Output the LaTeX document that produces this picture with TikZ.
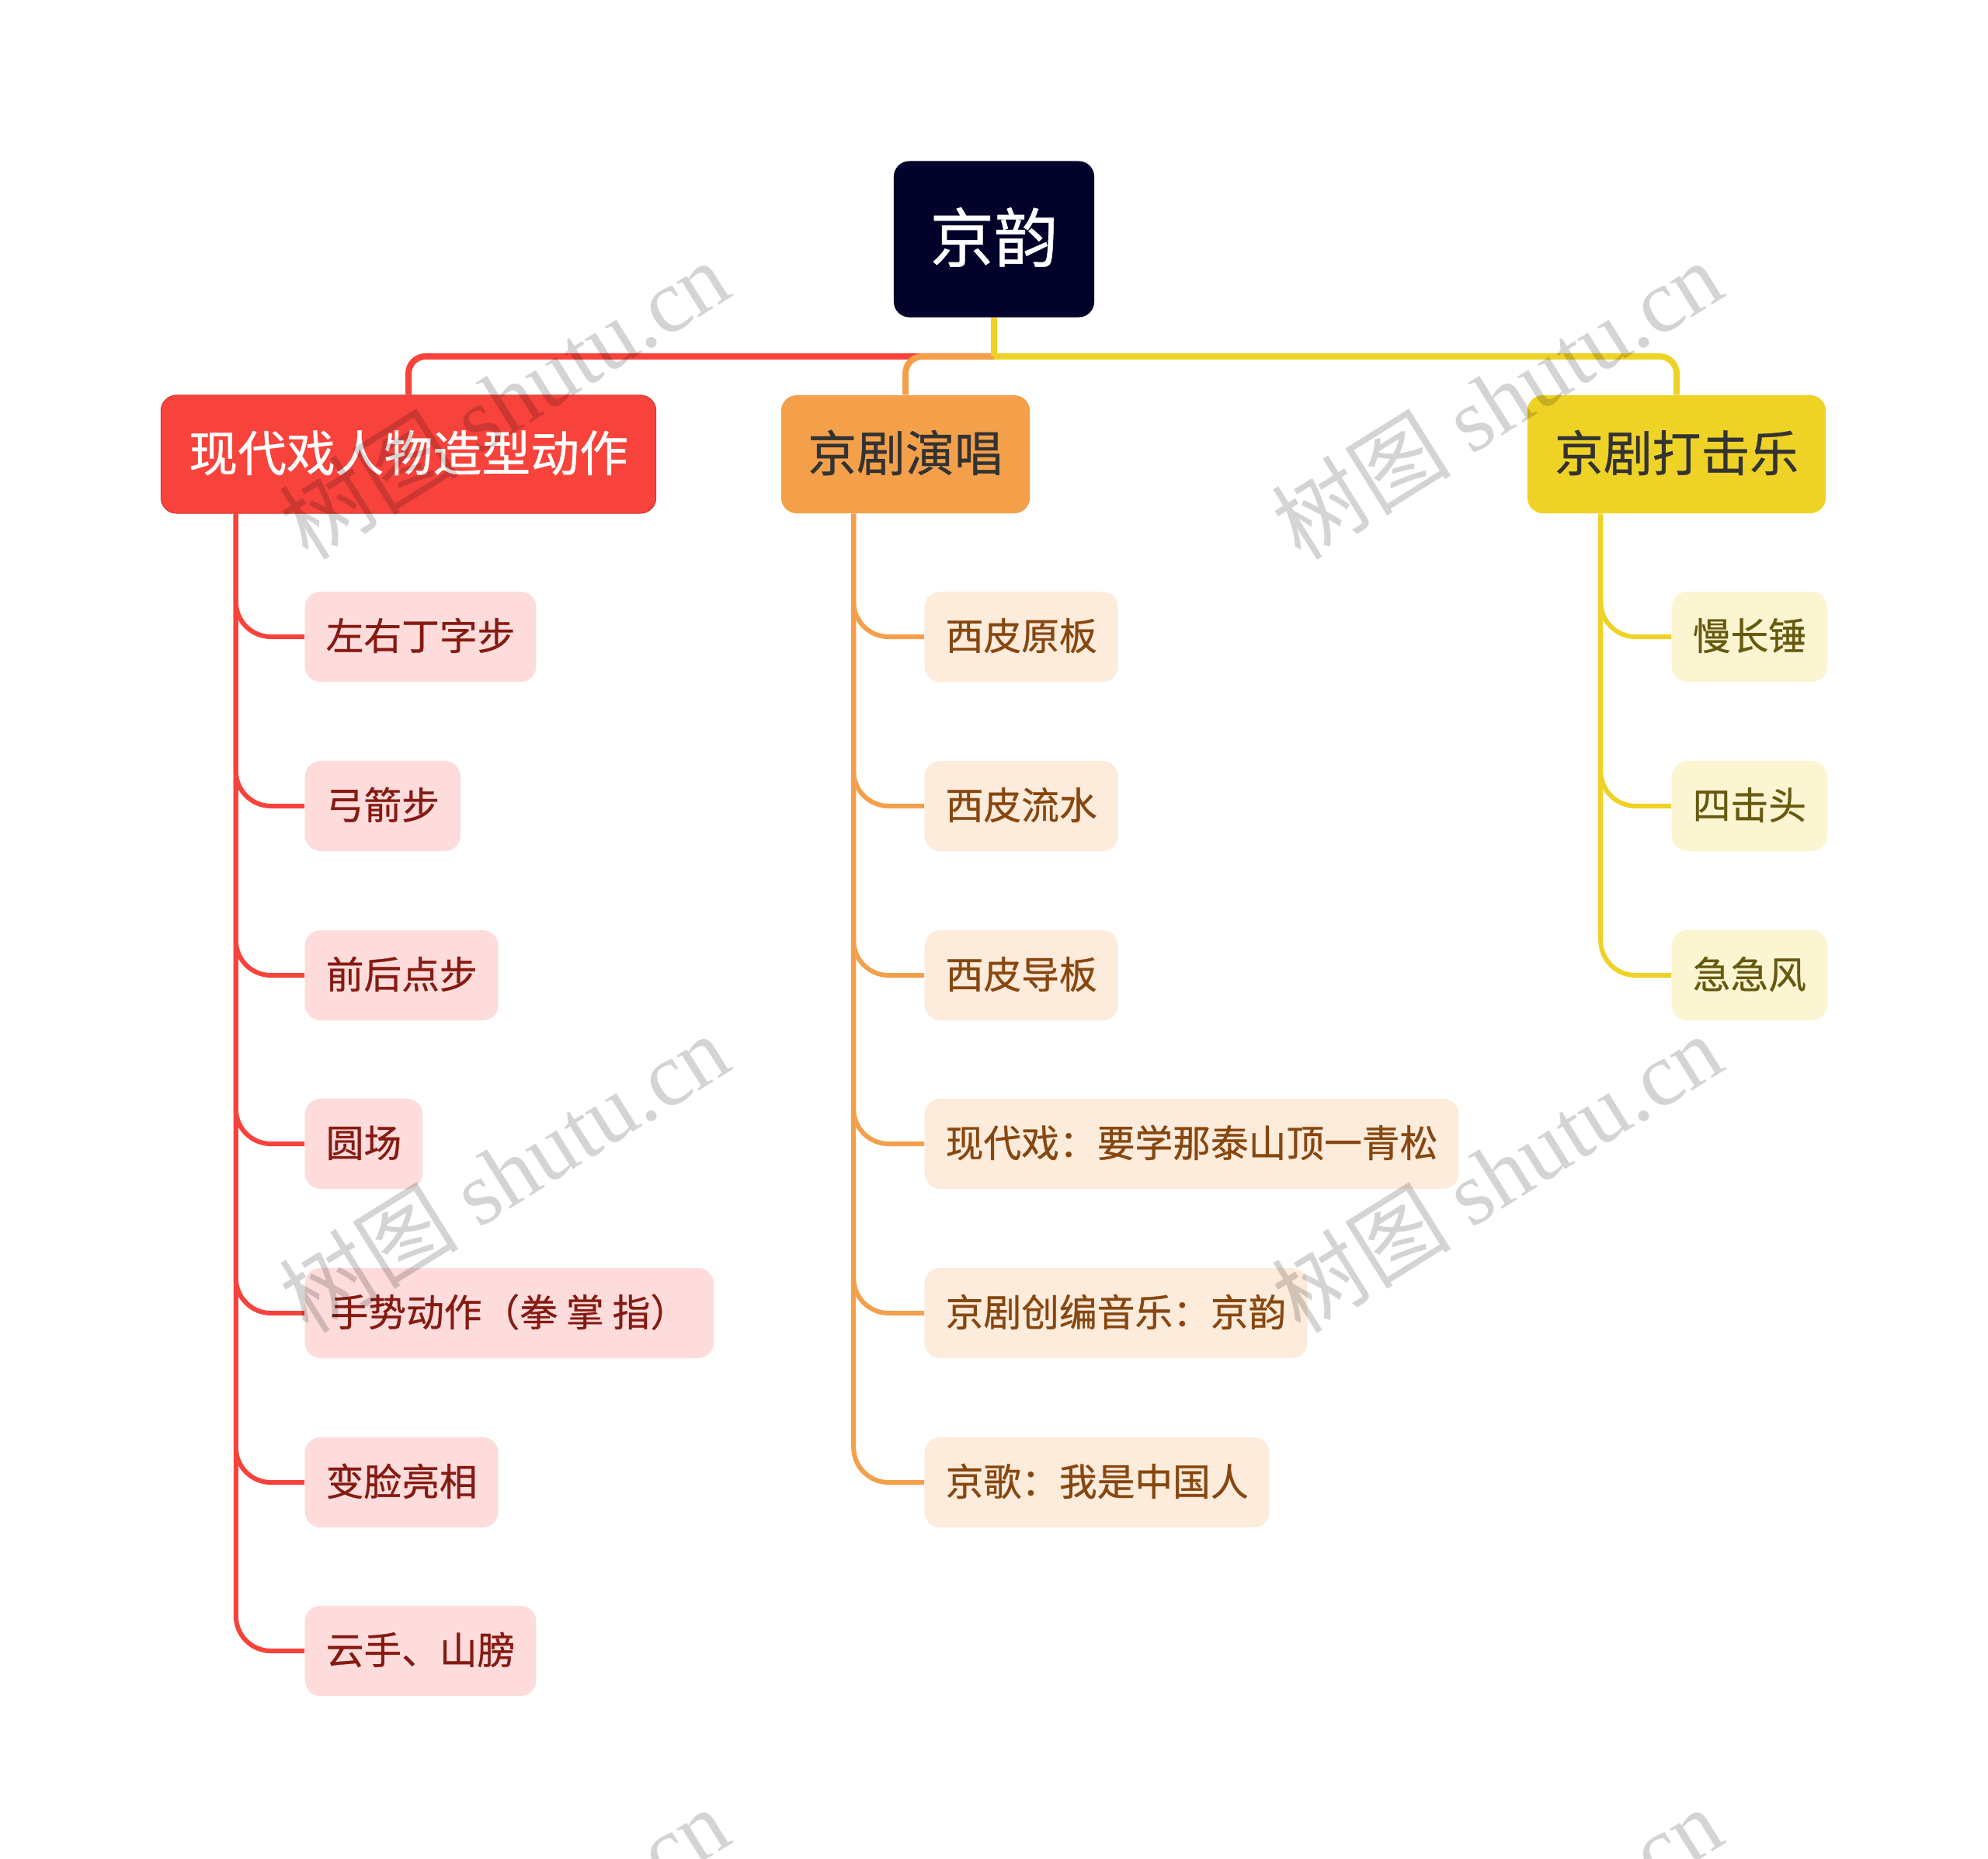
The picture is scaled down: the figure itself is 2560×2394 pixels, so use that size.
\documentclass[tikz,border=0pt]{standalone}
\usepackage{fontspec}
\newfontfamily\cjk[FakeBold=0.6]{Noto Sans CJK SC}
\newfontfamily\wmcjk{Noto Sans CJK SC}
\newfontfamily\wmlat{Liberation Serif}
\usetikzlibrary{calc}
\definecolor{rootc}{HTML}{03022A}
\definecolor{redc}{HTML}{F7433B}
\definecolor{orac}{HTML}{F4A04B}
\definecolor{yelc}{HTML}{EFD226}
\definecolor{redf}{HTML}{FDDCDB}
\definecolor{redt}{HTML}{861A12}
\definecolor{oraf}{HTML}{FDEBDB}
\definecolor{orat}{HTML}{874710}
\definecolor{yelf}{HTML}{FBF5D2}
\definecolor{yelt}{HTML}{675A10}
\definecolor{darkt}{HTML}{333333}
\begin{document}
\begin{tikzpicture}[x=0.01cm,y=-0.01cm,
  rootbox/.style={rectangle, rounded corners=0.2cm, fill=rootc, text=white,
    minimum width=2.58cm, minimum height=2.01cm, inner sep=0pt,
    text height=20pt, text depth=3.5pt,
    font=\cjk\fontsize{23.47pt}{28pt}\selectfont},
  lonebox/.style={rectangle, rounded corners=0.2cm, minimum height=1.52cm, inner sep=0pt,
    text height=15.2pt, text depth=2.7pt,
    font=\cjk\fontsize{17.87pt}{21pt}\selectfont},
  leaf/.style={rectangle, rounded corners=0.2cm, anchor=west, minimum height=1.16cm,
    inner xsep=0.27cm, inner ysep=0pt, text height=11.8pt, text depth=2.1pt,
    font=\cjk\fontsize{13.86pt}{16pt}\selectfont},
  redleaf/.style={leaf, fill=redf, text=redt},
  oraleaf/.style={leaf, fill=oraf, text=orat},
  yelleaf/.style={leaf, fill=yelf, text=yelt},
  link/.style={line width=0.08cm, rounded corners=0.22cm},
  sublink/.style={line width=0.06cm, rounded corners=0.45cm},
  wmark/.style={rotate=32, text=black, text opacity=0.17, inner sep=0pt,
    font=\fontsize{33pt}{36pt}\selectfont}
]
\useasboundingbox (0,0) rectangle (2560,2394);
\fill[white] (0,0) rectangle (2560,2394);
\clip (0,0) rectangle (2560,2394);

% root and main topics
\node[rootbox] (root) at (1280,308) {京韵};
\node[lonebox, fill=redc, draw=redc!85!black, line width=0.3pt, text=white, minimum width=6.37cm] (red) at (526,585) {现代戏人物造型动作};
\node[lonebox, fill=orac, text=darkt, minimum width=3.20cm] (ora) at (1166,585) {京剧演唱};
\node[lonebox, fill=yelc, text=darkt, minimum width=3.84cm] (yel) at (2159,585) {京剧打击乐};

\coordinate (bus) at (1280,459);
\draw[link, redc] (bus) -| (red.north);
\draw[link, orac] (bus) -| (ora.north);
\draw[link, yelc] (bus) -| (yel.north);
\draw[link, yelc, rounded corners=0pt] (root.south) -- (bus);

% leaves
\node[redleaf] (r1) at (392,820) {左右丁字步};
\node[redleaf] (r2) at (392,1038) {弓箭步};
\node[redleaf] (r3) at (392,1256) {前后点步};
\node[redleaf] (r4) at (392,1473) {圆场};
\node[redleaf, minimum width=5.26cm] (r5) at (392,1691) {手势动作（拳 掌 指）};
\node[redleaf] (r6) at (392,1909) {变脸亮相};
\node[redleaf] (r7) at (392,2126) {云手、山膀};

\node[oraleaf] (o1) at (1190,820) {西皮原板};
\node[oraleaf] (o2) at (1190,1038) {西皮流水};
\node[oraleaf] (o3) at (1190,1256) {西皮导板};
\node[oraleaf] (o4) at (1190,1473) {现代戏：要学那泰山顶一青松};
\node[oraleaf] (o5) at (1190,1691) {京剧创编音乐：京韵};
\node[oraleaf] (o6) at (1190,1909) {京歌：我是中国人};

\node[yelleaf] (y1) at (2152,820) {慢长锤};
\node[yelleaf] (y2) at (2152,1038) {四击头};
\node[yelleaf] (y3) at (2152,1256) {急急风};

\coordinate (rv) at ($(red.south west)+(97,0)$);
\coordinate (ov) at ($(ora.south west)+(94,0)$);
\coordinate (yv) at ($(yel.south west)+(95,0)$);
\foreach \n in {r1,r2,r3,r4,r5,r6,r7} \draw[sublink, redc] (rv) |- (\n.west);
\foreach \n in {o1,o2,o3,o4,o5,o6} \draw[sublink, orac] (ov) |- (\n.west);
\foreach \n in {y1,y2,y3} \draw[sublink, yelc] (yv) |- (\n.west);

% watermarks
\node[wmark] (w1) at (649,514) {\wmcjk 树图 \wmlat shutu.cn};
\node[wmark] (w2) at (1927,514) {\wmcjk 树图 \wmlat shutu.cn};
\node[wmark] (w3) at (649,1510) {\wmcjk 树图 \wmlat shutu.cn};
\node[wmark] (w4) at (1927,1510) {\wmcjk 树图 \wmlat shutu.cn};
\node[wmark] (w5) at (649,2506) {\wmcjk 树图 \wmlat shutu.cn};
\node[wmark] (w6) at (1927,2506) {\wmcjk 树图 \wmlat shutu.cn};
\end{tikzpicture}
\end{document}
